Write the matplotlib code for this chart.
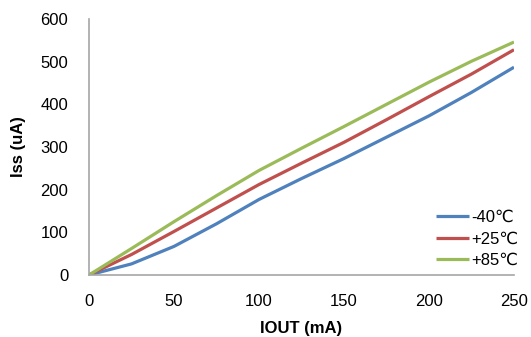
import matplotlib
matplotlib.use("Agg")
import matplotlib.pyplot as plt

plt.rcParams['font.family'] = ['Liberation Sans', 'DejaVu Sans']

iout = [0, 25, 50, 75, 100, 125, 150, 175, 200, 225, 250]
iss_m40 = [0, 26, 67, 120, 177, 226, 273, 323, 373, 428, 487]
iss_p25 = [0, 48, 102, 157, 212, 262, 311, 364, 418, 471, 528]
iss_p85 = [0, 62, 125, 186, 245, 297, 348, 400, 452, 501, 546]
labels = ['-40\u2103', '+25\u2103', '+85\u2103']

BLUE = '#4F81BD'
RED = '#C0504D'
GREEN = '#9BBB59'
GREY = '#A6A6A6'

fig = plt.figure(figsize=(5.31, 3.37), dpi=100)
ax = fig.add_axes([0.1676, 0.184, 0.8004, 0.7596])

for ys, lab, col in zip([iss_m40, iss_p25, iss_p85], labels, [BLUE, RED, GREEN]):
    ax.plot(iout, ys, color=col, lw=2.3, label=lab, solid_capstyle='butt',
            solid_joinstyle='round')

ax.set_xlim(0, 250)
ax.set_ylim(0, 600)
ax.set_xticks([0, 50, 100, 150, 200, 250])
ax.set_yticks([0, 100, 200, 300, 400, 500, 600])
ax.tick_params(length=0, labelsize=12, colors='black')
ax.tick_params(axis='x', pad=14)
ax.tick_params(axis='y', pad=15)

for s in ['top', 'right']:
    ax.spines[s].set_visible(False)
for s in ['left', 'bottom']:
    ax.spines[s].set_color(GREY)
    ax.spines[s].set_linewidth(1.2)

ax.set_xlabel('IOUT (mA)', fontsize=12, fontweight='bold', labelpad=8)
ax.set_ylabel('Iss (uA)', fontsize=12, fontweight='bold', labelpad=10)

ax.legend(loc='lower right', bbox_to_anchor=(1.045, -0.03), frameon=False,
          fontsize=12, handlelength=2.0, handletextpad=0.1, labelspacing=0.38)

fig.savefig('out.png', dpi=100)
